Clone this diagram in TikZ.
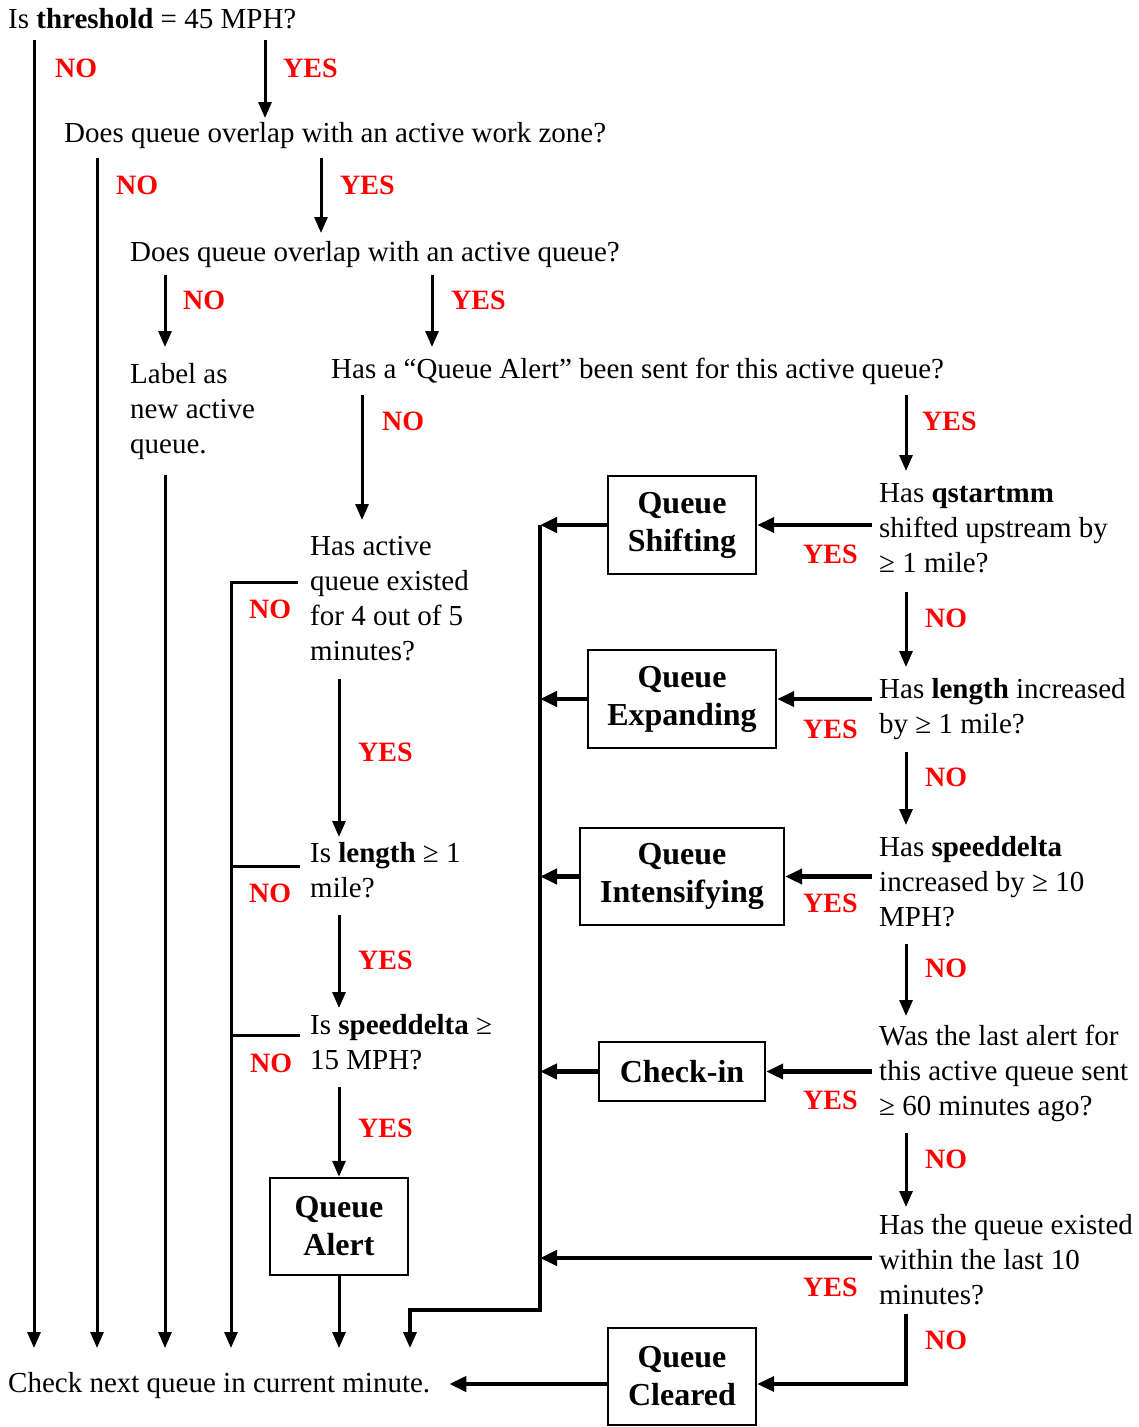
\documentclass[tikz,border=0pt]{standalone}
\usepackage{fontspec}
\setmainfont{Liberation Serif}
\usetikzlibrary{arrows.meta,calc}
\definecolor{answerred}{RGB}{255,0,0}
\tikzset{
  question/.style={anchor=north west, inner sep=0pt, align=left,
    font=\fontsize{29}{35}\selectfont},
  answer/.style={anchor=west, inner sep=0pt, text=answerred,
    font=\fontsize{28}{30}\selectfont\bfseries},
  outcome/.style={draw, line width=2.4pt, align=center, inner sep=0pt,
    font=\fontsize{32}{38}\selectfont\bfseries},
  flow/.style={line width=3pt, -{Triangle[length=16pt,width=13pt]}},
  flowthick/.style={line width=4.5pt, -{Triangle[length=17pt,width=15pt]}},
  plain/.style={line width=3pt},
}
\begin{document}
\begin{tikzpicture}[x=1pt,y=-1pt]
\useasboundingbox (0,0) rectangle (1139,1427);

% columns and the row where all exits end
\coordinate (cNoA) at (34,0);
\coordinate (cYesA) at (265,0);
\coordinate (cNoB) at (97,0);
\coordinate (cYesB) at (321,0);
\coordinate (cNoC) at (165,0);
\coordinate (cYesC) at (432,0);
\coordinate (cNoD) at (362,0);
\coordinate (cRight) at (906,0);
\coordinate (cLeft) at (231,0);
\coordinate (cMid) at (339,0);
\coordinate (cBus) at (540,0);
\coordinate (cOut) at (410,0);
\coordinate (cBot) at (0,1348);
\coordinate (cExit) at (0,1384);

% questions
\node[question] (q0) at (8,8) {Is \textbf{threshold} = 45 MPH?};
\node[question] (q1) at (64,122) {Does queue overlap with an active work zone?};
\node[question] (q2) at (130,241) {Does queue overlap with an active queue?};
\node[question] (lab) at (130,363) {Label as\\new active\\queue.};
\node[question] (q3) at (331,358) {Has a “Queue Alert” been sent for this active queue?};
\node[question] (q4) at (310,536) {Has active\\queue existed\\for 4 out of 5\\minutes?};
\node[question] (q5) at (310,842) {Is \textbf{length} ≥ 1\\mile?};
\node[question] (q6) at (310,1014) {Is \textbf{speeddelta} ≥\\15 MPH?};
\node[question] (r1) at (879,483) {Has \textbf{qstartmm}\\shifted upstream by\\≥ 1 mile?};
\node[question] (r2) at (879,678) {Has \textbf{length} increased\\by ≥ 1 mile?};
\node[question] (r3) at (879,836) {Has \textbf{speeddelta}\\increased by ≥ 10\\MPH?};
\node[question] (r4) at (879,1025) {Was the last alert for\\this active queue sent\\≥ 60 minutes ago?};
\node[question] (r5) at (879,1214) {Has the queue existed\\within the last 10\\minutes?};
\node[question] (fin) at (8,1372) {Check next queue in current minute.};

% outcomes
\node[outcome, minimum width=148pt, minimum height=98pt] (shift) at (682,525) {Queue\\Shifting};
\node[outcome, minimum width=188pt, minimum height=98pt] (expand) at (682,699) {Queue\\Expanding};
\node[outcome, minimum width=204pt, minimum height=97pt] (intens) at (682,876.5) {Queue\\Intensifying};
\node[outcome, minimum width=166pt, minimum height=59pt] (check) at (682,1071.5) {Check-in};
\node[outcome, minimum width=138pt, minimum height=97pt] (alert) at (339,1226.5) {Queue\\Alert};
\node[outcome, minimum width=148pt, minimum height=97pt] (clear) at (682,1376.5) {Queue\\Cleared};

% answer labels
\node[answer] at (55,68) {NO};
\node[answer] at (283,68) {YES};
\node[answer] at (116,185) {NO};
\node[answer] at (340,185) {YES};
\node[answer] at (183,300) {NO};
\node[answer] at (451,300) {YES};
\node[answer] at (382,421) {NO};
\node[answer] at (922,421) {YES};
\node[answer] at (249,609) {NO};
\node[answer] at (358,752) {YES};
\node[answer] at (249,893) {NO};
\node[answer] at (358,960) {YES};
\node[answer] at (250,1063) {NO};
\node[answer] at (358,1128) {YES};
\node[answer] at (803,554) {YES};
\node[answer] at (925,618) {NO};
\node[answer] at (803,729) {YES};
\node[answer] at (925,777) {NO};
\node[answer] at (803,903) {YES};
\node[answer] at (925,968) {NO};
\node[answer] at (803,1100) {YES};
\node[answer] at (925,1159) {NO};
\node[answer] at (803,1287) {YES};
\node[answer] at (925,1340) {NO};

% left branch
\draw[flow, shorten <=11pt] (q0.south -| cNoA) -- (cNoA |- cBot);
\draw[flow, shorten <=11pt, shorten >=4pt] (q0.south -| cYesA) -- (q1.north -| cYesA);
\draw[flow, shorten <=9pt] (q1.south -| cNoB) -- (cNoB |- cBot);
\draw[flow, shorten <=9pt, shorten >=8pt] (q1.south -| cYesB) -- (q2.north -| cYesB);
\draw[flow, shorten <=7pt, shorten >=16pt] (q2.south -| cNoC) -- (lab.north -| cNoC);
\draw[flow, shorten <=7pt, shorten >=11pt] (q2.south -| cYesC) -- (q3.north -| cYesC);
\draw[flow, shorten <=15pt] (lab.south -| cNoC) -- (cNoC |- cBot);
\draw[flow, shorten <=10pt, shorten >=16pt] (q3.south -| cNoD) -- (q4.north -| cNoD);
\draw[flow, shorten <=10pt, shorten >=12pt] (q3.south -| cRight) -- (r1.north -| cRight);

% queue alert checks
\draw[flow] ($(q4.north west)+(-12,46)$) -| (cLeft |- cBot);
\draw[flow, shorten <=18pt, shorten >=5pt] (q4.south -| cMid) -- (q5.north -| cMid);
\draw[plain] ($(q5.north west)+(-10,24)$) coordinate (n5) -- (n5 -| cLeft);
\draw[flow, shorten <=17pt, shorten >=6pt] (q5.south -| cMid) -- (q6.north -| cMid);
\draw[plain] ($(q6.north west)+(-10,21)$) coordinate (n6) -- (n6 -| cLeft);
\draw[flow, shorten <=17pt] (q6.south -| cMid) -- (alert.north);
\draw[flow] (alert.south) -- (alert.south |- cBot);

% active queue checks
\draw[flowthick] ($(shift.east -| r1.west)+(-7,0)$) -- (shift.east);
\draw[flowthick] (shift.west) -- (shift.west -| cBus);
\draw[flow, shorten <=19pt, shorten >=11pt] (r1.south -| cRight) -- (r2.north -| cRight);
\draw[flowthick] ($(expand.east -| r2.west)+(-7,0)$) -- (expand.east);
\draw[flowthick] (expand.west) -- (expand.west -| cBus);
\draw[flow, shorten <=12pt, shorten >=11pt] (r2.south -| cRight) -- (r3.north -| cRight);
\draw[flowthick] ($(intens.east -| r3.west)+(-7,0)$) -- (intens.east);
\draw[flowthick] (intens.west) -- (intens.west -| cBus);
\draw[flow, shorten <=17pt, shorten >=9pt] (r3.south -| cRight) -- (r4.north -| cRight);
\draw[flowthick] ($(check.east -| r4.west)+(-7,0)$) -- (check.east);
\draw[flowthick] (check.west) -- (check.west -| cBus);
\draw[flow, shorten <=11pt, shorten >=7pt] (r4.south -| cRight) -- (r5.north -| cRight);
\draw[flowthick] ($(r5.north west)+(-7,44)$) coordinate (n7) -- (n7 -| cBus);
\draw[flowthick, line width=3.5pt] (r5.south -| cRight) ++(0,9) -- (cRight |- cExit) -- (clear.east |- cExit);

% collecting line back to the exit row
\draw[line width=3.5pt, -{Triangle[length=16pt,width=13pt]}]
  (cBus |- shift.west) -- (cBus |- 0,1310) -| (cOut |- cBot);

% exit
\draw[flowthick, shorten >=19pt] (clear.west |- cExit) -- (fin.east |- cExit);
\end{tikzpicture}
\end{document}
